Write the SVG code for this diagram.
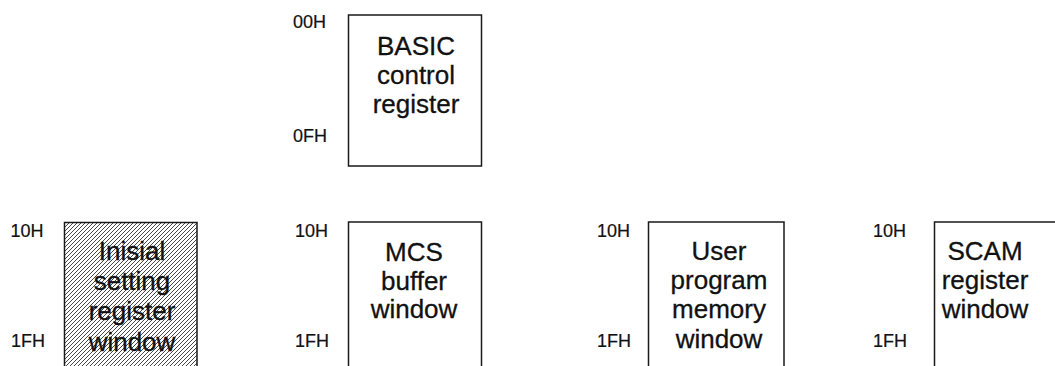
<svg xmlns="http://www.w3.org/2000/svg" width="1055" height="366" viewBox="0 0 1055 366">
<style>
.box{fill:#fff;stroke:#1a1a1a;stroke-width:1.5}
.hatch{fill:url(#h);stroke:#1a1a1a;stroke-width:1.5}
.t{font-family:"Liberation Sans",Arial,sans-serif;font-size:26px;fill:#111;stroke:#111;stroke-width:0.3;text-anchor:middle}
.a{font-family:"Liberation Sans",Arial,sans-serif;font-size:18px;fill:#111;stroke:#111;stroke-width:0.2}
</style>
<defs>
<pattern id="h" patternUnits="userSpaceOnUse" width="4" height="4">
<rect width="4" height="4" fill="#fff"/>
<path d="M-1,1 l2,-2 M0,4 l4,-4 M3,5 l2,-2" stroke="#333" stroke-width="0.9"/>
</pattern>
</defs>
<rect width="1055" height="366" fill="#fff"/>
<g id="basic">
<rect class="box" x="348.5" y="15" width="133" height="151"/>
<text class="a" x="293" y="28">00H</text>
<text class="a" x="293" y="142">0FH</text>
<text class="t" x="416" y="55">BASIC</text>
<text class="t" x="416" y="84">control</text>
<text class="t" x="416" y="113">register</text>
</g>
<g id="inisial">
<rect class="hatch" x="64.5" y="222.5" width="132.5" height="160"/>
<text class="a" x="10.5" y="237">10H</text>
<text class="a" x="11" y="347">1FH</text>
<text class="t" x="132" y="260">Inisial</text>
<text class="t" x="132" y="290">setting</text>
<text class="t" x="132" y="320">register</text>
<text class="t" x="132" y="351">window</text>
</g>
<g id="mcs">
<rect class="box" x="348.5" y="222" width="133" height="160"/>
<text class="a" x="295" y="237">10H</text>
<text class="a" x="295" y="347">1FH</text>
<text class="t" x="414" y="261">MCS</text>
<text class="t" x="414" y="290">buffer</text>
<text class="t" x="414" y="318">window</text>
</g>
<g id="user">
<rect class="box" x="648.5" y="222" width="135.5" height="160"/>
<text class="a" x="597" y="237">10H</text>
<text class="a" x="597" y="347">1FH</text>
<text class="t" x="719" y="260">User</text>
<text class="t" x="719" y="289">program</text>
<text class="t" x="719" y="318">memory</text>
<text class="t" x="719" y="348">window</text>
</g>
<g id="scam">
<rect class="box" x="934.5" y="222" width="133" height="160"/>
<text class="a" x="873" y="237">10H</text>
<text class="a" x="873" y="347">1FH</text>
<text class="t" x="985" y="260">SCAM</text>
<text class="t" x="985" y="289">register</text>
<text class="t" x="985" y="318">window</text>
</g>
<g id="connectors"></g>
</svg>
